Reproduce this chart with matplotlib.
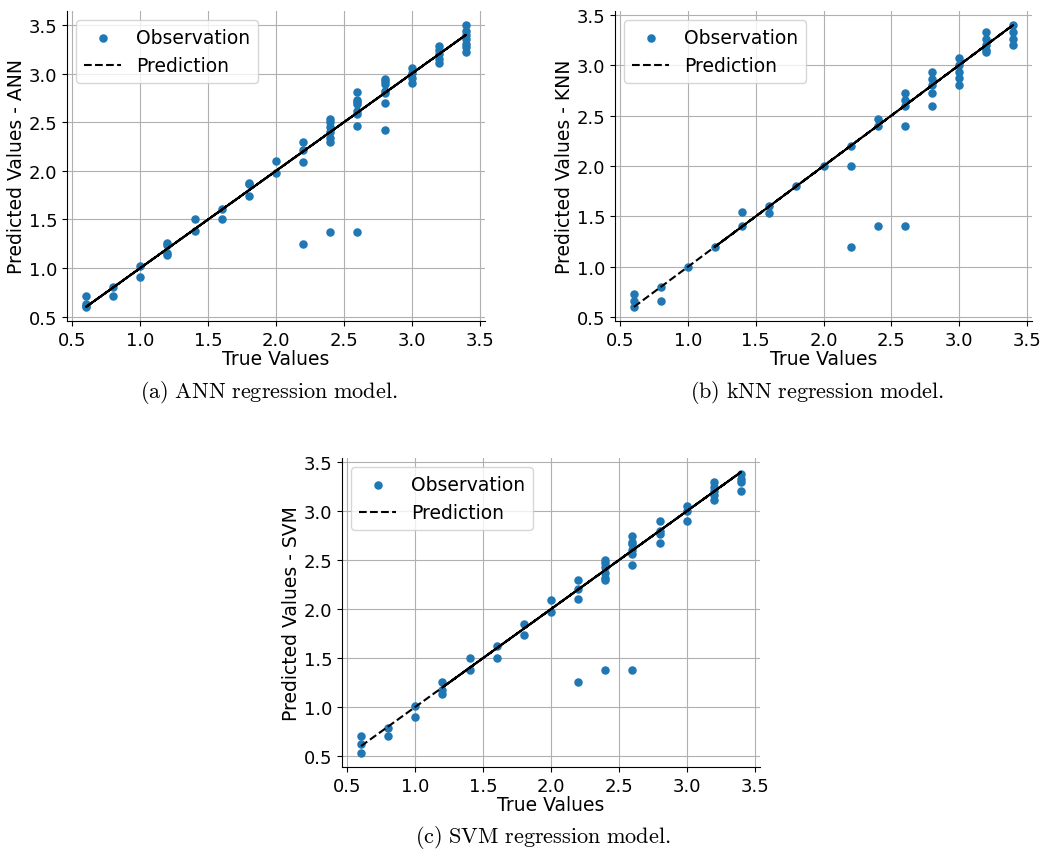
import numpy as np
import matplotlib.pyplot as plt

plt.rcParams['mathtext.fontset'] = 'cm'

# true values (test set levels)
levels = [0.6, 0.8, 1.0, 1.2, 1.4, 1.6, 1.8, 2.0, 2.2, 2.4, 2.6, 2.8, 3.0, 3.2, 3.4]

# predicted values per true level
ann_pred = [
    [0.71, 0.63, 0.60, 0.61],
    [0.81, 0.71],
    [1.02, 0.91],
    [1.26, 1.24, 1.15, 1.13],
    [1.50, 1.38],
    [1.61, 1.50],
    [1.86, 1.87, 1.74],
    [2.10, 1.98],
    [2.30, 2.21, 2.09, 1.25],
    [2.53, 2.50, 2.45, 2.40, 2.34, 2.30, 1.37],
    [2.81, 2.73, 2.71, 2.69, 2.62, 2.59, 2.46, 1.37],
    [2.95, 2.92, 2.89, 2.82, 2.80, 2.70, 2.42],
    [3.06, 3.01, 2.96, 2.90],
    [3.28, 3.24, 3.20, 3.15, 3.11],
    [3.50, 3.44, 3.40, 3.36, 3.31, 3.27, 3.22],
]

knn_pred = [
    [0.73, 0.66, 0.60],
    [0.80, 0.66],
    [1.00],
    [1.20],
    [1.54, 1.40],
    [1.60, 1.53],
    [1.80],
    [2.00],
    [2.20, 2.00, 1.20],
    [2.47, 2.40, 1.40],
    [2.73, 2.66, 2.60, 2.40, 1.40],
    [2.93, 2.86, 2.80, 2.73, 2.60],
    [3.07, 3.00, 2.93, 2.87, 2.80],
    [3.33, 3.26, 3.20, 3.15, 3.13],
    [3.40, 3.33, 3.26, 3.20],
]

svm_pred = [
    [0.70, 0.62, 0.53],
    [0.79, 0.70],
    [1.01, 0.90],
    [1.25, 1.17, 1.13],
    [1.50, 1.38],
    [1.62, 1.50],
    [1.85, 1.74],
    [2.09, 1.97],
    [2.30, 2.21, 2.10, 1.25],
    [2.50, 2.47, 2.43, 2.37, 2.32, 2.30, 1.38],
    [2.75, 2.69, 2.66, 2.60, 2.56, 2.45, 1.38],
    [2.90, 2.80, 2.77, 2.67],
    [3.05, 3.00, 2.90],
    [3.30, 3.25, 3.21, 3.17, 3.11],
    [3.38, 3.33, 3.30, 3.21],
]

captions = ['(a) ANN regression model.', '(b) kNN regression model.',
            '(c) SVM regression model.']
ylabels = ['Predicted Values - ANN', 'Predicted Values - KNN',
           'Predicted Values - SVM']

W, H = 1042, 853
fig = plt.figure(figsize=(W / 100, H / 100), dpi=100)


def box(left, right, top, bottom):
    return [left / W, 1 - bottom / H, (right - left) / W, (bottom - top) / H]


boxes = [box(67, 485, 12, 322), box(615, 1032, 12, 322), box(342, 760, 459, 768)]
cap_pos = [(269, 393), (817, 393), (543, 838)]
# how far the (overlapping) dashed line is traced back, per panel
back_from = [0, 3, 3]

for k, pred in enumerate([ann_pred, knn_pred, svm_pred]):
    ax = fig.add_axes(boxes[k])
    true = np.concatenate([[lv] * len(p) for lv, p in zip(levels, pred)])
    y = np.concatenate(pred)
    ax.set_axisbelow(True)
    ax.grid(True, color='#b0b0b0', lw=0.8)
    ax.scatter(true, y, s=26, color='#1f77b4', label='Observation', zorder=2)

    # prediction line: y = x drawn through the test values (back and forth)
    lv = np.array(levels)
    path = np.concatenate([lv, lv[::-1][:len(lv) - back_from[k]],
                           lv[back_from[k]:], lv[::-1][:len(lv) - back_from[k]]])
    ax.plot(path, path, 'k--', lw=1.5, label='Prediction', zorder=3)

    ax.spines['top'].set_visible(False)
    ax.spines['right'].set_visible(False)
    ax.set_xticks([0.5, 1.0, 1.5, 2.0, 2.5, 3.0, 3.5])
    ax.set_yticks([0.5, 1.0, 1.5, 2.0, 2.5, 3.0, 3.5])
    ax.tick_params(labelsize=13)
    ax.set_xlabel('True Values', fontsize=13.5, labelpad=0)
    ax.set_ylabel(ylabels[k], fontsize=13.5, labelpad=2)
    ax.legend(loc='upper left', fontsize=13.5)

    cx, cy = cap_pos[k]
    txt = r'$\mathrm{' + captions[k].replace(' ', r'\ ') + '}$'
    fig.text(cx / W, 1 - cy / H, txt, ha='center', va='center', fontsize=16)

fig.savefig('out.png', dpi=100)
